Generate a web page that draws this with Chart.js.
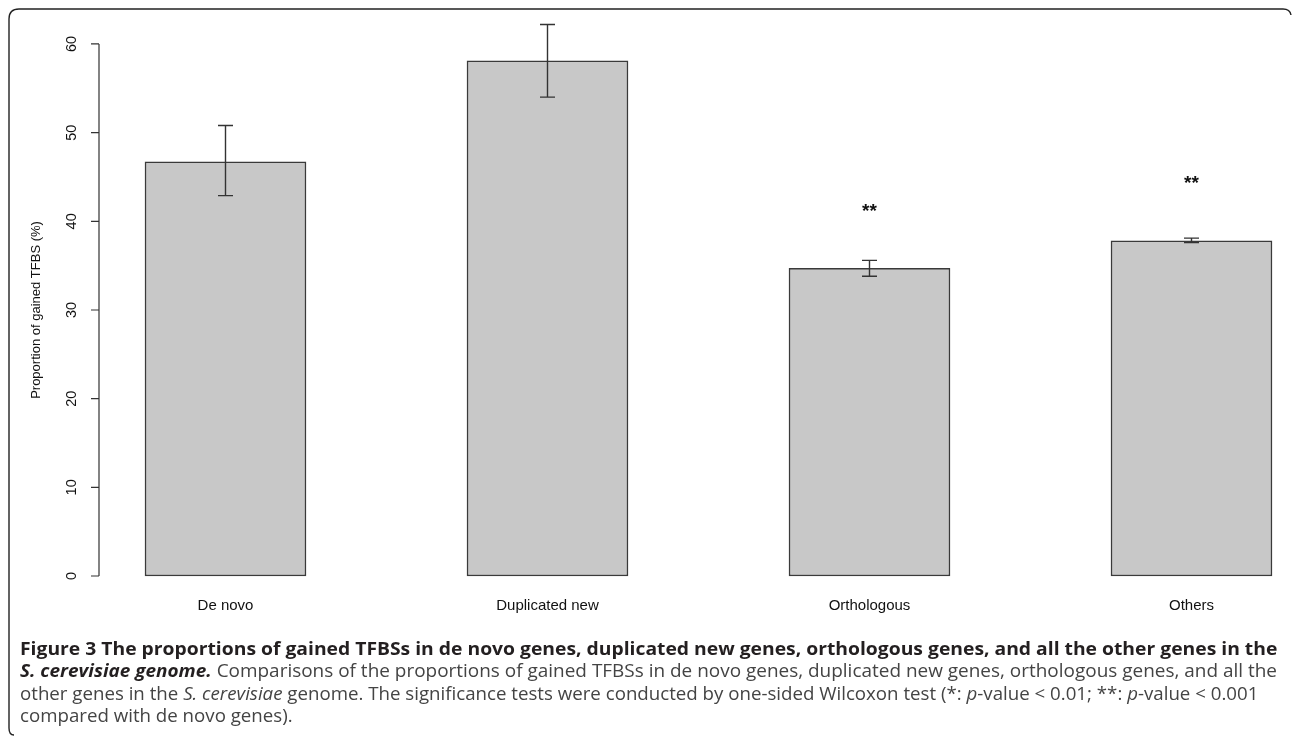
<!DOCTYPE html>
<html>
<head>
<meta charset="utf-8">
<script src="https://cdn.jsdelivr.net/npm/chart.js@4/dist/chart.umd.min.js"></script>
<style>
  html, body { margin: 0; padding: 0; background: #fff; width: 1292px; height: 737px; overflow: hidden; }
  #chart { position: absolute; left: 0; top: 0; }
  #frame { position: absolute; left: 0; top: 0; }
  .cap { position: absolute; left: 20px; white-space: nowrap; font-family: "Open Sans", sans-serif;
         font-size: 18px; line-height: 22px; color: #444; transform-origin: 0 0; }
  .cap b { color: #231f20; font-weight: 700; }
</style>
</head>
<body>
<canvas id="chart" width="1292" height="737"></canvas>
<svg id="frame" width="1292" height="737">
  <path d="M 14 735 Q 9 735 9 728 L 9 19 Q 9 9 19 9 L 1283 9 Q 1290 9 1291 15" fill="none" stroke="#222" stroke-width="1.4"/>
</svg>
<div class="cap" id="l1" style="top:637px"><b>Figure 3 The proportions of gained TFBSs in de novo genes, duplicated new genes, orthologous genes, and all the other genes in the</b></div>
<div class="cap" id="l2" style="top:659px"><b><i>S. cerevisiae genome.</i></b> Comparisons of the proportions of gained TFBSs in de novo genes, duplicated new genes, orthologous genes, and all the</div>
<div class="cap" id="l3" style="top:682px">other genes in the <i>S. cerevisiae</i> genome. The significance tests were conducted by one-sided Wilcoxon test (*: <i>p</i>-value &lt; 0.01; **: <i>p</i>-value &lt; 0.001</div>
<div class="cap" id="l4" style="top:704px">compared with de novo genes).</div>
<script>
// Gene classes and their proportion of gained TFBSs (%), with error bar ends
const categories = ['De novo', 'Duplicated new', 'Orthologous', 'Others'];
const proportions = [46.7, 58.1, 34.7, 37.8];
const errLower = [42.9, 54.0, 33.8, 37.6];
const errUpper = [50.8, 62.2, 35.6, 38.1];
const significance = ['', '', '**', '**'];
const yTicks = [0, 10, 20, 30, 40, 50, 60];
const yTitle = 'Proportion of gained TFBS (%)';

const FONT = '"Liberation Sans", Arial, sans-serif';
const INK = '#333';

// R-style axis, labels, error bars and significance marks
const annotate = {
  id: 'annotate',
  afterDatasetsDraw(chart) {
    const ctx = chart.ctx;
    const xs = chart.scales.x, ys = chart.scales.y;
    const axisX = 99;
    ctx.save();
    ctx.strokeStyle = INK;
    ctx.lineWidth = 1.2;

    // y axis line and ticks
    ctx.beginPath();
    ctx.moveTo(axisX, ys.getPixelForValue(yTicks[0]));
    ctx.lineTo(axisX, ys.getPixelForValue(yTicks[yTicks.length - 1]));
    yTicks.forEach(t => {
      const y = ys.getPixelForValue(t);
      ctx.moveTo(axisX - 8, y);
      ctx.lineTo(axisX, y);
    });
    ctx.stroke();

    // tick labels, parallel to the axis
    ctx.fillStyle = '#111';
    ctx.font = '14.5px ' + FONT;
    ctx.textAlign = 'center';
    ctx.textBaseline = 'middle';
    yTicks.forEach(t => {
      const y = ys.getPixelForValue(t);
      ctx.save();
      ctx.translate(72, y);
      ctx.rotate(-Math.PI / 2);
      ctx.fillText(String(t), 0, 0);
      ctx.restore();
    });

    // y axis title
    ctx.save();
    ctx.font = '13px ' + FONT;
    ctx.translate(36, (ys.getPixelForValue(0) + ys.getPixelForValue(60)) / 2);
    ctx.rotate(-Math.PI / 2);
    ctx.fillText(yTitle, 0, 0);
    ctx.restore();

    // category labels
    ctx.font = '15px ' + FONT;
    categories.forEach((c, i) => {
      ctx.fillText(c, xs.getPixelForValue(i), ys.getPixelForValue(0) + 30);
    });

    // error bars
    ctx.strokeStyle = INK;
    ctx.lineWidth = 1.4;
    const cap = 7.5;
    categories.forEach((c, i) => {
      const x = xs.getPixelForValue(i);
      const yl = ys.getPixelForValue(errLower[i]);
      const yh = ys.getPixelForValue(errUpper[i]);
      ctx.beginPath();
      ctx.moveTo(x, yl); ctx.lineTo(x, yh);
      ctx.moveTo(x - cap, yl); ctx.lineTo(x + cap, yl);
      ctx.moveTo(x - cap, yh); ctx.lineTo(x + cap, yh);
      ctx.stroke();
    });

    // significance marks above the bars
    ctx.fillStyle = '#111';
    ctx.font = 'bold 19px ' + FONT;
    significance.forEach((s, i) => {
      if (!s) return;
      ctx.fillText(s, xs.getPixelForValue(i), ys.getPixelForValue(proportions[i] + 6.4));
    });
    ctx.restore();
  }
};

new Chart(document.getElementById('chart'), {
  type: 'bar',
  data: {
    labels: categories,
    datasets: [{
      data: proportions,
      backgroundColor: '#c8c8c8',
      borderColor: '#3a3a3a',
      borderWidth: 1.5,
      borderSkipped: false,
      barThickness: 161,
      clip: false
    }]
  },
  options: {
    responsive: false,
    animation: false,
    devicePixelRatio: 1,
    layout: { padding: { left: 225.5, right: 100.5, top: 8.5, bottom: 161 } },
    plugins: { legend: { display: false }, tooltip: { enabled: false } },
    scales: {
      x: { type: 'category', display: false, offset: false },
      y: { display: false, min: 0, max: 64 }
    }
  },
  plugins: [annotate]
});

// fit each caption line to its justified width
const targets = { l1: 1257, l2: 1257, l3: 1238 };
let lastScale = 1;
['l1', 'l2', 'l3', 'l4'].forEach(id => {
  const el = document.getElementById(id);
  const w = el.scrollWidth;
  const s = targets[id] ? targets[id] / w : lastScale;
  el.style.transform = 'scaleX(' + s + ')';
  lastScale = s;
});
</script>
</body>
</html>
